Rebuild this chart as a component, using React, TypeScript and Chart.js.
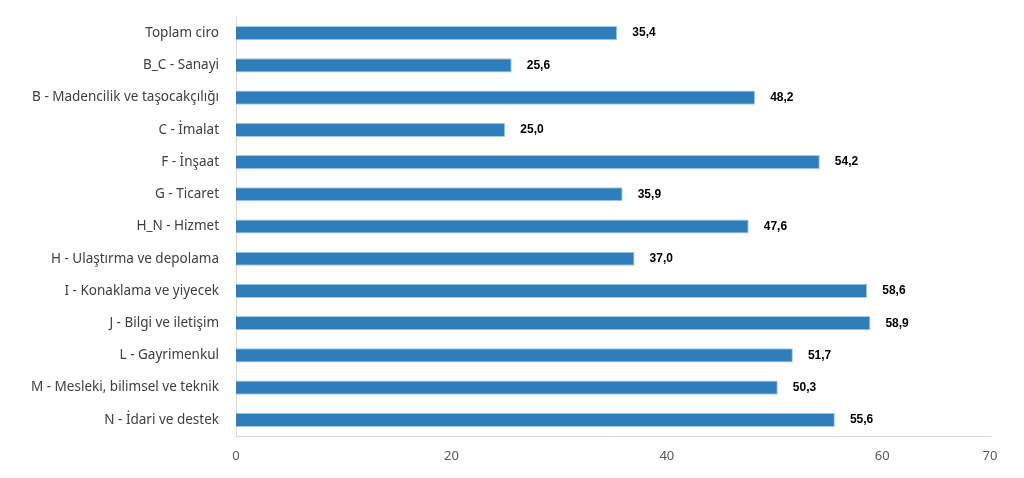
import React, { useEffect, useRef } from "react";
import { Chart, registerables } from "chart.js";

Chart.register(...registerables);

const categories = [
  "Toplam ciro",
  "B_C - Sanayi",
  "B - Madencilik ve taşocakçılığı",
  "C - İmalat",
  "F - İnşaat",
  "G - Ticaret",
  "H_N - Hizmet",
  "H - Ulaştırma ve depolama",
  "I - Konaklama ve yiyecek",
  "J - Bilgi ve iletişim",
  "L - Gayrimenkul",
  "M - Mesleki, bilimsel ve teknik",
  "N - İdari ve destek",
];

const values = [35.4, 25.6, 48.2, 25.0, 54.2, 35.9, 47.6, 37.0, 58.6, 58.9, 51.7, 50.3, 55.6];

const xTicks = [0, 20, 40, 60, 70];

const valueLabels = {
  id: "valueLabels",
  afterDatasetsDraw(chart: any) {
    const ctx = chart.ctx;
    const meta = chart.getDatasetMeta(0);
    ctx.save();
    ctx.font = "bold 12px 'Liberation Sans', Arial, sans-serif";
    ctx.fillStyle = "#000000";
    ctx.textAlign = "left";
    ctx.textBaseline = "middle";
    meta.data.forEach((bar: any, i: number) => {
      const v = values[i];
      ctx.fillText(v.toFixed(1).replace(".", ","), bar.x + 15, bar.y);
    });
    ctx.restore();
  },
};

export default function App() {
  const ref = useRef<HTMLCanvasElement>(null);
  useEffect(() => {
    if (!ref.current) return;
    const chart = new Chart(ref.current, {
      type: "bar",
      data: {
        labels: categories,
        datasets: [
          {
            data: values,
            backgroundColor: "#2f7dba",
            borderColor: "#a8cbe9",
            borderWidth: 1,
            barPercentage: 0.44,
            categoryPercentage: 1,
          },
        ],
      },
      options: {
        indexAxis: "y",
        animation: false,
        responsive: true,
        maintainAspectRatio: false,
        layout: { padding: { top: 17, right: 34, left: 0, bottom: 0 } },
        plugins: { legend: { display: false }, tooltip: { enabled: false } },
        scales: {
          x: {
            min: 0,
            max: 70,
            afterBuildTicks: (scale: any) => {
              scale.ticks = xTicks.map((v) => ({ value: v }));
            },
            afterFit: (scale: any) => {
              scale.height = 42;
              scale.paddingLeft = 0;
              scale.paddingRight = 0;
            },
            grid: { display: false, drawTicks: false },
            border: { display: true, color: "#d9d9d9" },
            ticks: {
              padding: 12,
              color: "#595959",
              font: { family: "'Noto Sans', sans-serif", size: 13 },
            },
          },
          y: {
            afterFit: (scale: any) => {
              scale.width = 236;
              scale.paddingTop = 0;
              scale.paddingBottom = 0;
            },
            grid: { display: false, drawTicks: false },
            border: { display: true, color: "#d9d9d9" },
            ticks: {
              padding: 17,
              color: "#404040",
              font: { family: "'Noto Sans', sans-serif", size: 13.5 },
            },
          },
        },
      },
      plugins: [valueLabels],
    });
    return () => chart.destroy();
  }, []);
  return (
    <div style={{ position: "fixed", left: 0, top: 0, width: 1024, height: 478, background: "#fff" }}>
      <canvas ref={ref} />
    </div>
  );
}
